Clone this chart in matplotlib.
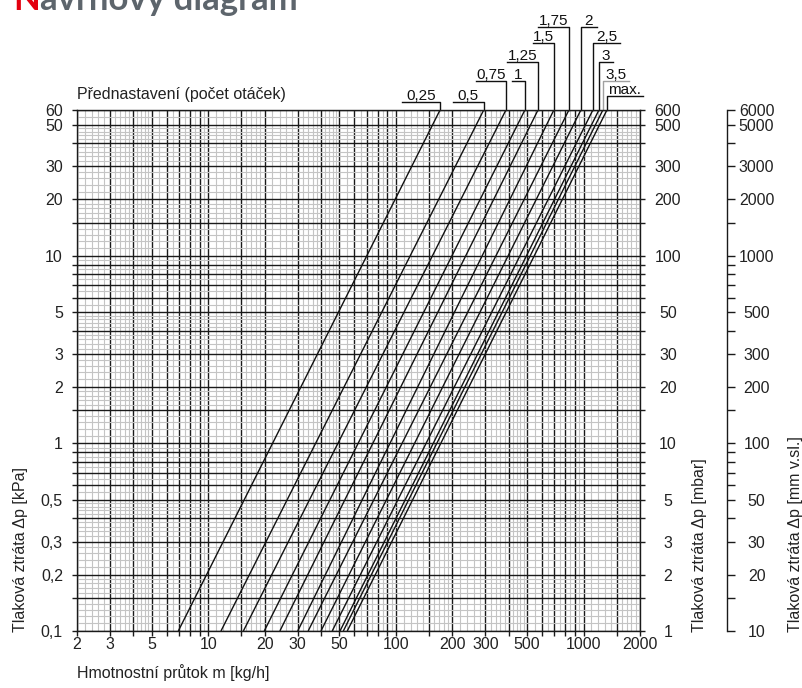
import numpy as np
import matplotlib
matplotlib.use('Agg')
import matplotlib.pyplot as plt
from matplotlib.ticker import FixedLocator, FixedFormatter, NullLocator

plt.rcParams['font.family'] = ['Liberation Sans', 'DejaVu Sans']

# presetting (turns) and mass flow [kg/h] where each line meets 0,1 kPa and 60 kPa
presets = ['0,25', '0,5', '0,75', '1', '1,25', '1,5', '1,75', '2', '2,5', '3', '3,5', 'max.']
flow_at_low = [6.93, 11.7, 15.4, 19.9, 24.1, 30.0, 34.1, 39.9, 45.8, 50.4, 52.5, 55.1]
flow_at_high = [172, 294, 386, 487, 572, 695, 836, 968, 1122, 1208, 1268, 1333]
dp_low, dp_high = 0.1, 60

x_lines = [2, 3, 4, 5, 6, 7, 8, 9, 10, 15, 20, 30, 40, 50, 60, 70, 80, 90, 100,
           150, 200, 300, 400, 500, 600, 700, 800, 900, 1000, 1500, 2000]
x_labeled = [2, 3, 5, 10, 20, 30, 50, 100, 200, 300, 500, 1000, 2000]
y_lines = [0.1, 0.15, 0.2, 0.3, 0.4, 0.5, 0.6, 0.7, 0.8, 0.9, 1, 1.5, 2, 3, 4, 5,
           6, 7, 8, 9, 10, 15, 20, 30, 40, 50, 60]
y_labeled = [0.1, 0.2, 0.3, 0.5, 1, 2, 3, 5, 10, 20, 30, 50, 60]

# fine grey lines inside one decade (1..10)
fine = [1.1, 1.2, 1.3, 1.4, 1.6, 1.7, 1.8, 1.9, 2.2, 2.4, 2.6, 2.8, 3.2, 3.4,
        3.6, 3.8, 4.2, 4.4, 4.6, 4.8, 5.5, 6.5, 7.5, 8.5, 9.5]

# leader layout: rise above plot top [px], underline length [px] (<0 = to the left)
leader_rise = [8.3, 8.3, 29, 29, 47.7, 67.3, 83.3, 83.3, 67.3, 47.7, 29, 13.7]
leader_len = [-38, -31, -30, -13, -31, -21, -31, 16, 27, 14, 26, 36]
leader_col = ['#111111'] * 10 + ['#a0a0a0', '#111111']


def fmt(v):
    s = ('%g' % v)
    return s.replace('.', ',')


def labels_for(ticks, shown, scale=1):
    return [fmt(t * scale) if t in shown else '' for t in ticks]


W, H = 803, 688
fig = plt.figure(figsize=(W / 100, H / 100), dpi=100)
x0, x1, ytop, ybot = 77, 640, 110, 631
ax = fig.add_axes([x0 / W, 1 - ybot / H, (x1 - x0) / W, (ybot - ytop) / H])
ax.set_xscale('log')
ax.set_yscale('log')
ax.set_xlim(2, 2000)
ax.set_ylim(dp_low, dp_high)

x_fine = [f * d for d in [1, 10, 100, 1000] for f in fine if 2 <= f * d <= 2000]
y_fine = [f * d for d in [0.1, 1, 10] for f in fine if f * d <= 60]

ax.xaxis.set_major_locator(FixedLocator(x_lines))
ax.xaxis.set_major_formatter(FixedFormatter(labels_for(x_lines, x_labeled)))
ax.xaxis.set_minor_locator(FixedLocator(x_fine))
ax.yaxis.set_major_locator(FixedLocator(y_lines))
ax.yaxis.set_major_formatter(FixedFormatter(labels_for(y_lines, y_labeled)))
ax.yaxis.set_minor_locator(FixedLocator(y_fine))
ax.xaxis.set_minor_formatter(FixedFormatter([''] * len(x_fine)))
ax.yaxis.set_minor_formatter(FixedFormatter([''] * len(y_fine)))

ax.grid(which='minor', color='#c4c4c4', lw=0.8)
ax.grid(which='major', color='#1a1a1a', lw=1.0)
ax.set_axisbelow(True)
ax.tick_params(which='major', direction='out', length=3.6, width=1.0,
               labelsize=11.5, color='#1a1a1a', labelcolor='#222222')
ax.tick_params(axis='x', which='major', pad=0.5)
ax.tick_params(axis='y', which='major', pad=6.5)
ax.tick_params(which='minor', length=0)
for s in ax.spines.values():
    s.set_color('#1a1a1a')
    s.set_linewidth(1.0)

# pressure-loss lines for each presetting
for lo, hi in zip(flow_at_low, flow_at_high):
    ax.plot([lo, hi], [dp_low, dp_high], color='#111111', lw=1.0, solid_capstyle='butt')

# mbar scale
ax2 = ax.twinx()
ax2.set_yscale('log')
ax2.set_ylim(dp_low * 10, dp_high * 10)
mbar_ticks = [v * 10 for v in y_lines]
ax2.yaxis.set_major_locator(FixedLocator(mbar_ticks))
ax2.yaxis.set_major_formatter(FixedFormatter(labels_for(y_lines, y_labeled, 10)))
ax2.yaxis.set_minor_locator(NullLocator())
ax2.tick_params(axis='y', direction='out', length=3.6, width=1.0, labelsize=11.5,
                pad=16.5, color='#1a1a1a', labelcolor='#222222')
for lab in ax2.get_yticklabels():
    lab.set_horizontalalignment('center')
for s in ax2.spines.values():
    s.set_visible(False)

# mm water column scale
ax3 = ax.twinx()
ax3.set_yscale('log')
ax3.set_ylim(dp_low * 100, dp_high * 100)
ax3.spines['right'].set_position(('outward', 87 * 0.72))
for k in ['top', 'left', 'bottom']:
    ax3.spines[k].set_visible(False)
ax3.spines['right'].set_color('#1a1a1a')
ax3.spines['right'].set_linewidth(1.0)
ax3.yaxis.set_major_locator(FixedLocator([v * 100 for v in y_lines]))
ax3.yaxis.set_major_formatter(FixedFormatter(labels_for(y_lines, y_labeled, 100)))
ax3.yaxis.set_minor_locator(NullLocator())
ax3.tick_params(axis='y', direction='out', length=5.8, width=1.0, labelsize=11.5,
                pad=15.5, color='#1a1a1a', labelcolor='#222222')
for lab in ax3.get_yticklabels():
    lab.set_horizontalalignment('center')

# leaders from each line top to its label
inv = ax.transData.inverted()
for name, hi, rise, ln, col in zip(presets, flow_at_high, leader_rise, leader_len, leader_col):
    px, py = ax.transData.transform((hi, dp_high))
    pts = [(px, py), (px, py + rise), (px + ln, py + rise)]
    data = inv.transform(pts)
    ax.plot(data[:, 0], data[:, 1], color=col, lw=1.0, clip_on=False)
    tx, ty = inv.transform((px + ln / 2, py + rise + 2))
    ax.text(tx, ty, name, ha='center', va='baseline', fontsize=11, color='#111111')

# axis titles
fig.text(x0 / W, 1 - 673 / H, 'Hmotnostní průtok m [kg/h]', ha='left', va='center',
         fontsize=11.5, color='#222222')
fig.text(x0 / W, 1 - 94 / H, 'Přednastavení (počet otáček)', ha='left', va='center',
         fontsize=11.5, color='#222222')
fig.text(21 / W, 1 - 632 / H, 'Tlaková ztráta Δp [kPa]', rotation=90, ha='center',
         va='bottom', fontsize=11.5, color='#222222')
fig.text(700 / W, 1 - 632 / H, 'Tlaková ztráta Δp [mbar]', rotation=90, ha='center',
         va='bottom', fontsize=11.5, color='#222222')
fig.text(796 / W, 1 - 632 / H, 'Tlaková ztráta Δp [mm v.sl.]', rotation=90, ha='center',
         va='bottom', fontsize=11.5, color='#222222')

# heading, cut off at the top edge as in the source
t1 = fig.text(13 / W, 1 - 10 / H, 'N', ha='left', va='baseline', fontsize=25,
              fontweight='bold', family=['Lato', 'DejaVu Sans'], color='#e3000f')
rend = fig.canvas.get_renderer()
bb = t1.get_window_extent(rend)
fig.text(bb.x1 / W, 1 - 10 / H, 'ávrhový diagram', ha='left', va='baseline', fontsize=25,
         fontweight='bold', family=['Lato', 'DejaVu Sans'], color='#5d656c')

fig.savefig('out.png', dpi=100)
